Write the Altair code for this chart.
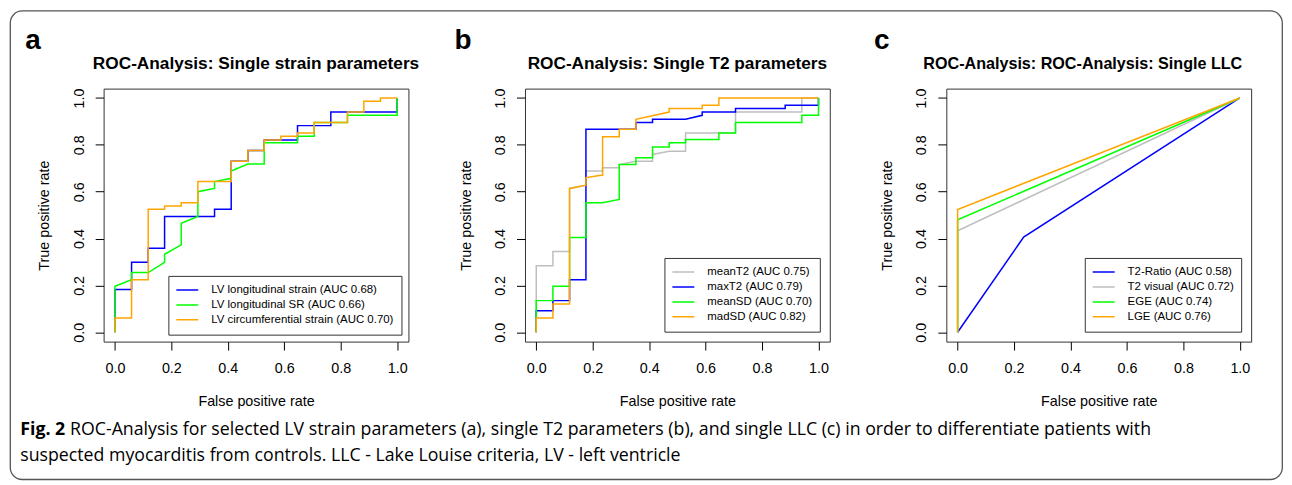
import altair as alt
import pandas as pd

# ---------------- data ----------------
TICKS = [0.0, 0.2, 0.4, 0.6, 0.8, 1.0]

# Panel a: single strain parameters
A_NAMES = ["LV longitudinal strain (AUC 0.68)",
           "LV longitudinal SR (AUC 0.66)",
           "LV circumferential strain (AUC 0.70)"]
A_COLORS = ["#0000FF", "#00FF00", "#FFA500"]
A1_FPR = [0, 0, 0.059, 0.059, 0.118, 0.118, 0.176, 0.176, 0.353, 0.353, 0.412, 0.412,
          0.471, 0.471, 0.529, 0.529, 0.647, 0.647, 0.765, 0.765, 1.0, 1.0]
A1_TPR = [0, 0.182, 0.182, 0.299, 0.299, 0.359, 0.359, 0.494, 0.494, 0.525, 0.525, 0.730,
          0.730, 0.776, 0.776, 0.821, 0.821, 0.882, 0.882, 0.940, 0.940, 1.0]
A2_FPR = [0, 0, 0.059, 0.059, 0.118, 0.176, 0.176, 0.235, 0.235, 0.294, 0.294, 0.353, 0.353,
          0.412, 0.412, 0.471, 0.529, 0.529, 0.647, 0.647, 0.706, 0.706, 0.824, 0.824, 1.0, 1.0]
A2_TPR = [0, 0.196, 0.224, 0.255, 0.255, 0.298, 0.333, 0.373, 0.465, 0.494, 0.600, 0.614, 0.643,
          0.657, 0.688, 0.718, 0.718, 0.809, 0.809, 0.837, 0.837, 0.895, 0.895, 0.926, 0.926, 1.0]
A3_FPR = [0, 0, 0.059, 0.059, 0.118, 0.118, 0.176, 0.176, 0.235, 0.235, 0.294, 0.294, 0.412,
          0.412, 0.471, 0.471, 0.529, 0.529, 0.588, 0.588, 0.647, 0.647, 0.706, 0.706, 0.824,
          0.824, 0.882, 0.882, 0.941, 0.941, 1.0]
A3_TPR = [0, 0.061, 0.061, 0.224, 0.224, 0.525, 0.525, 0.539, 0.539, 0.553, 0.553, 0.643, 0.643,
          0.730, 0.730, 0.776, 0.776, 0.821, 0.821, 0.837, 0.837, 0.851, 0.851, 0.895, 0.895,
          0.940, 0.940, 0.986, 0.986, 1.0, 1.0]

# Panel b: single T2 parameters
B_NAMES = ["meanT2 (AUC 0.75)", "maxT2 (AUC 0.79)", "meanSD (AUC 0.70)", "madSD (AUC 0.82)"]
B_COLORS = ["#BEBEBE", "#0000FF", "#00FF00", "#FFA500"]
B1_FPR = [0, 0, 0.059, 0.059, 0.118, 0.118, 0.176, 0.176, 0.235, 0.235, 0.294, 0.294, 0.353,
          0.412, 0.412, 0.471, 0.529, 0.529, 0.706, 0.706, 0.941, 0.941, 1.0]
B1_TPR = [0, 0.284, 0.284, 0.345, 0.345, 0.614, 0.628, 0.688, 0.688, 0.702, 0.702, 0.716, 0.730,
          0.730, 0.759, 0.773, 0.773, 0.851, 0.851, 0.940, 0.940, 1.0, 1.0]
B2_FPR = [0, 0, 0.059, 0.059, 0.118, 0.118, 0.176, 0.176, 0.353, 0.353, 0.412, 0.412, 0.529,
          0.588, 0.588, 0.706, 0.706, 0.882, 0.882, 1.0, 1.0]
B2_TPR = [0, 0.092, 0.092, 0.135, 0.135, 0.224, 0.224, 0.867, 0.867, 0.895, 0.895, 0.909, 0.909,
          0.926, 0.940, 0.940, 0.955, 0.955, 0.969, 0.969, 1.0]
B3_FPR = [0, 0, 0.059, 0.059, 0.118, 0.118, 0.176, 0.176, 0.235, 0.294, 0.294, 0.353, 0.353,
          0.412, 0.412, 0.471, 0.471, 0.529, 0.529, 0.647, 0.647, 0.706, 0.706, 0.941, 0.941,
          1.0, 1.0]
B3_TPR = [0, 0.135, 0.135, 0.196, 0.196, 0.404, 0.404, 0.553, 0.553, 0.567, 0.716, 0.716, 0.745,
          0.745, 0.791, 0.791, 0.809, 0.809, 0.823, 0.823, 0.851, 0.851, 0.895, 0.895, 0.926,
          0.926, 1.0]
B4_FPR = [0, 0, 0.059, 0.059, 0.118, 0.118, 0.176, 0.176, 0.235, 0.235, 0.294, 0.294, 0.353,
          0.353, 0.471, 0.471, 0.588, 0.588, 0.647, 0.647, 1.0]
B4_TPR = [0, 0.061, 0.061, 0.121, 0.121, 0.614, 0.628, 0.660, 0.671, 0.834, 0.834, 0.867, 0.867,
          0.909, 0.940, 0.955, 0.955, 0.969, 0.969, 1.0, 1.0]

# Panel c: single LLC
C_NAMES = ["T2-Ratio (AUC 0.58)", "T2 visual (AUC 0.72)", "EGE (AUC 0.74)", "LGE (AUC 0.76)"]
C_COLORS = ["#0000FF", "#BEBEBE", "#00FF00", "#FFA500"]
C1_FPR = [0, 0.234, 1.0]
C1_TPR = [0, 0.406, 1.0]
C2_FPR = [0, 0, 1.0]
C2_TPR = [0, 0.433, 1.0]
C3_FPR = [0, 0, 1.0]
C3_TPR = [0, 0.480, 1.0]
C4_FPR = [0, 0, 1.0]
C4_TPR = [0, 0.524, 1.0]

PANEL_TITLES = ["ROC-Analysis: Single strain parameters",
                "ROC-Analysis: Single T2 parameters",
                "ROC-Analysis: ROC-Analysis: Single LLC"]
PANEL_LETTERS = ["a", "b", "c"]
X_TITLE = "False positive rate"
Y_TITLE = "True positive rate"
CAPTION_BOLD = "Fig. 2"
CAPTION_LINE1 = ("ROC-Analysis for selected LV strain parameters (a), single T2 parameters (b), "
                 "and single LLC (c) in order to differentiate patients with")
CAPTION_LINE2 = "suspected myocarditis from controls. LLC - Lake Louise criteria, LV - left ventricle"

# ---------------- layout constants ----------------
W, H = 306, 254
FONT = "Liberation Sans"
CAP_FONT = "Open Sans"
CAP_SIZE = 17.8


def make_df(names, curves):
    rows = []
    for name, (fpr, tpr) in zip(names, curves):
        for i, (fx, ty) in enumerate(zip(fpr, tpr)):
            rows.append({"series": name, "i": i, "fpr": fx, "tpr": ty})
    return pd.DataFrame(rows)


def text_layer(label, x, y, size, weight="normal", align="left", font=FONT, baseline="alphabetic"):
    return alt.Chart(pd.DataFrame({"label": [label]})).mark_text(
        font=font, fontSize=size, fontWeight=weight, align=align, baseline=baseline, color="#000"
    ).encode(text="label:N", x=alt.value(x), y=alt.value(y))


def panel(names, colors, curves, title, title_x, title_size, letter, letter_x, legend_offset,
          extras=()):
    df = make_df(names, curves)
    dom = [-0.04, 1.04]
    xaxis = alt.Axis(values=TICKS, format=".1f", title=X_TITLE, domain=False, grid=False,
                     tickSize=8.5, tickColor="#000", labelPadding=12, labelAngle=0,
                     titleX=W / 2, titleY=60, titleBaseline="middle", titleAlign="center")
    yaxis = alt.Axis(values=TICKS, format=".1f", title=Y_TITLE, domain=False, grid=False,
                     tickSize=8.5, tickColor="#000", labelPadding=16, labelAngle=270,
                     labelAlign="center", labelBaseline="middle",
                     titleX=-59, titleY=H / 2, titleAngle=270, titleBaseline="middle",
                     titleAlign="center")
    legend = alt.Legend(title=None, orient="bottom-right", offset=legend_offset,
                        fillColor="white", strokeColor="#333", padding=7,
                        labelFont=FONT, labelFontSize=11.5, labelColor="#000",
                        symbolType="stroke", symbolStrokeWidth=1.5, symbolSize=484,
                        labelOffset=12, clipHeight=14.3, rowPadding=0, labelLimit=0)
    color = alt.Color("series:N", scale=alt.Scale(domain=names, range=colors),
                      sort=names, legend=legend)
    layers = []
    for name in names:
        layers.append(
            alt.Chart(df).transform_filter(alt.datum.series == name)
            .mark_line(strokeWidth=1.5)
            .encode(x=alt.X("fpr:Q", scale=alt.Scale(domain=dom, nice=False, zero=False), axis=xaxis),
                    y=alt.Y("tpr:Q", scale=alt.Scale(domain=dom, nice=False, zero=False), axis=yaxis),
                    color=color, order="i:Q")
        )
    layers.append(text_layer(title, title_x, -20, title_size, weight="bold", align="center"))
    layers.append(text_layer(letter, letter_x, -40, 28, weight="bold"))
    layers.extend(extras)
    return alt.layer(*layers).properties(width=W, height=H)


border = alt.Chart(pd.DataFrame({"k": [0]})).mark_rect(
    fill="white", fillOpacity=0, stroke="#555", strokeWidth=1.3, cornerRadius=12
).encode(x=alt.value(-93.7), x2=alt.value(1183.3), y=alt.value(-78), y2=alt.value(392.4))

captions = [
    text_layer(CAPTION_BOLD, -83.7, 348, CAP_SIZE, weight="bold", font=CAP_FONT),
    text_layer(CAPTION_LINE1, -33.7, 348, CAP_SIZE, font=CAP_FONT),
    text_layer(CAPTION_LINE2, -83.7, 374, CAP_SIZE, font=CAP_FONT),
]

pa = panel(A_NAMES, A_COLORS, [(A1_FPR, A1_TPR), (A2_FPR, A2_TPR), (A3_FPR, A3_TPR)],
           PANEL_TITLES[0], W / 2, 17.3, PANEL_LETTERS[0], -78.7, 7, extras=[border] + captions)
pb = panel(B_NAMES, B_COLORS, [(B1_FPR, B1_TPR), (B2_FPR, B2_TPR), (B3_FPR, B3_TPR), (B4_FPR, B4_TPR)],
           PANEL_TITLES[1], W / 2, 17.3, PANEL_LETTERS[1], -70.7, 10)
pc = panel(C_NAMES, C_COLORS, [(C1_FPR, C1_TPR), (C2_FPR, C2_TPR), (C3_FPR, C3_TPR), (C4_FPR, C4_TPR)],
           PANEL_TITLES[2], 137, 16.2, PANEL_LETTERS[2], -72.7, 10)

chart = alt.hconcat(pa, pb, pc, bounds="flush", spacing=117,
                    padding={"left": 1, "top": 0, "right": 0, "bottom": 0}).resolve_scale(
    color="independent").resolve_legend(color="independent").configure_view(
    stroke="#333", strokeWidth=1).configure_axis(
    labelFont=FONT, titleFont=FONT, labelFontSize=14.4, titleFontSize=14.4,
    titleFontWeight="normal", labelColor="#000", titleColor="#000")

chart.save("out.html", embed_options={"renderer": "svg", "actions": False})
